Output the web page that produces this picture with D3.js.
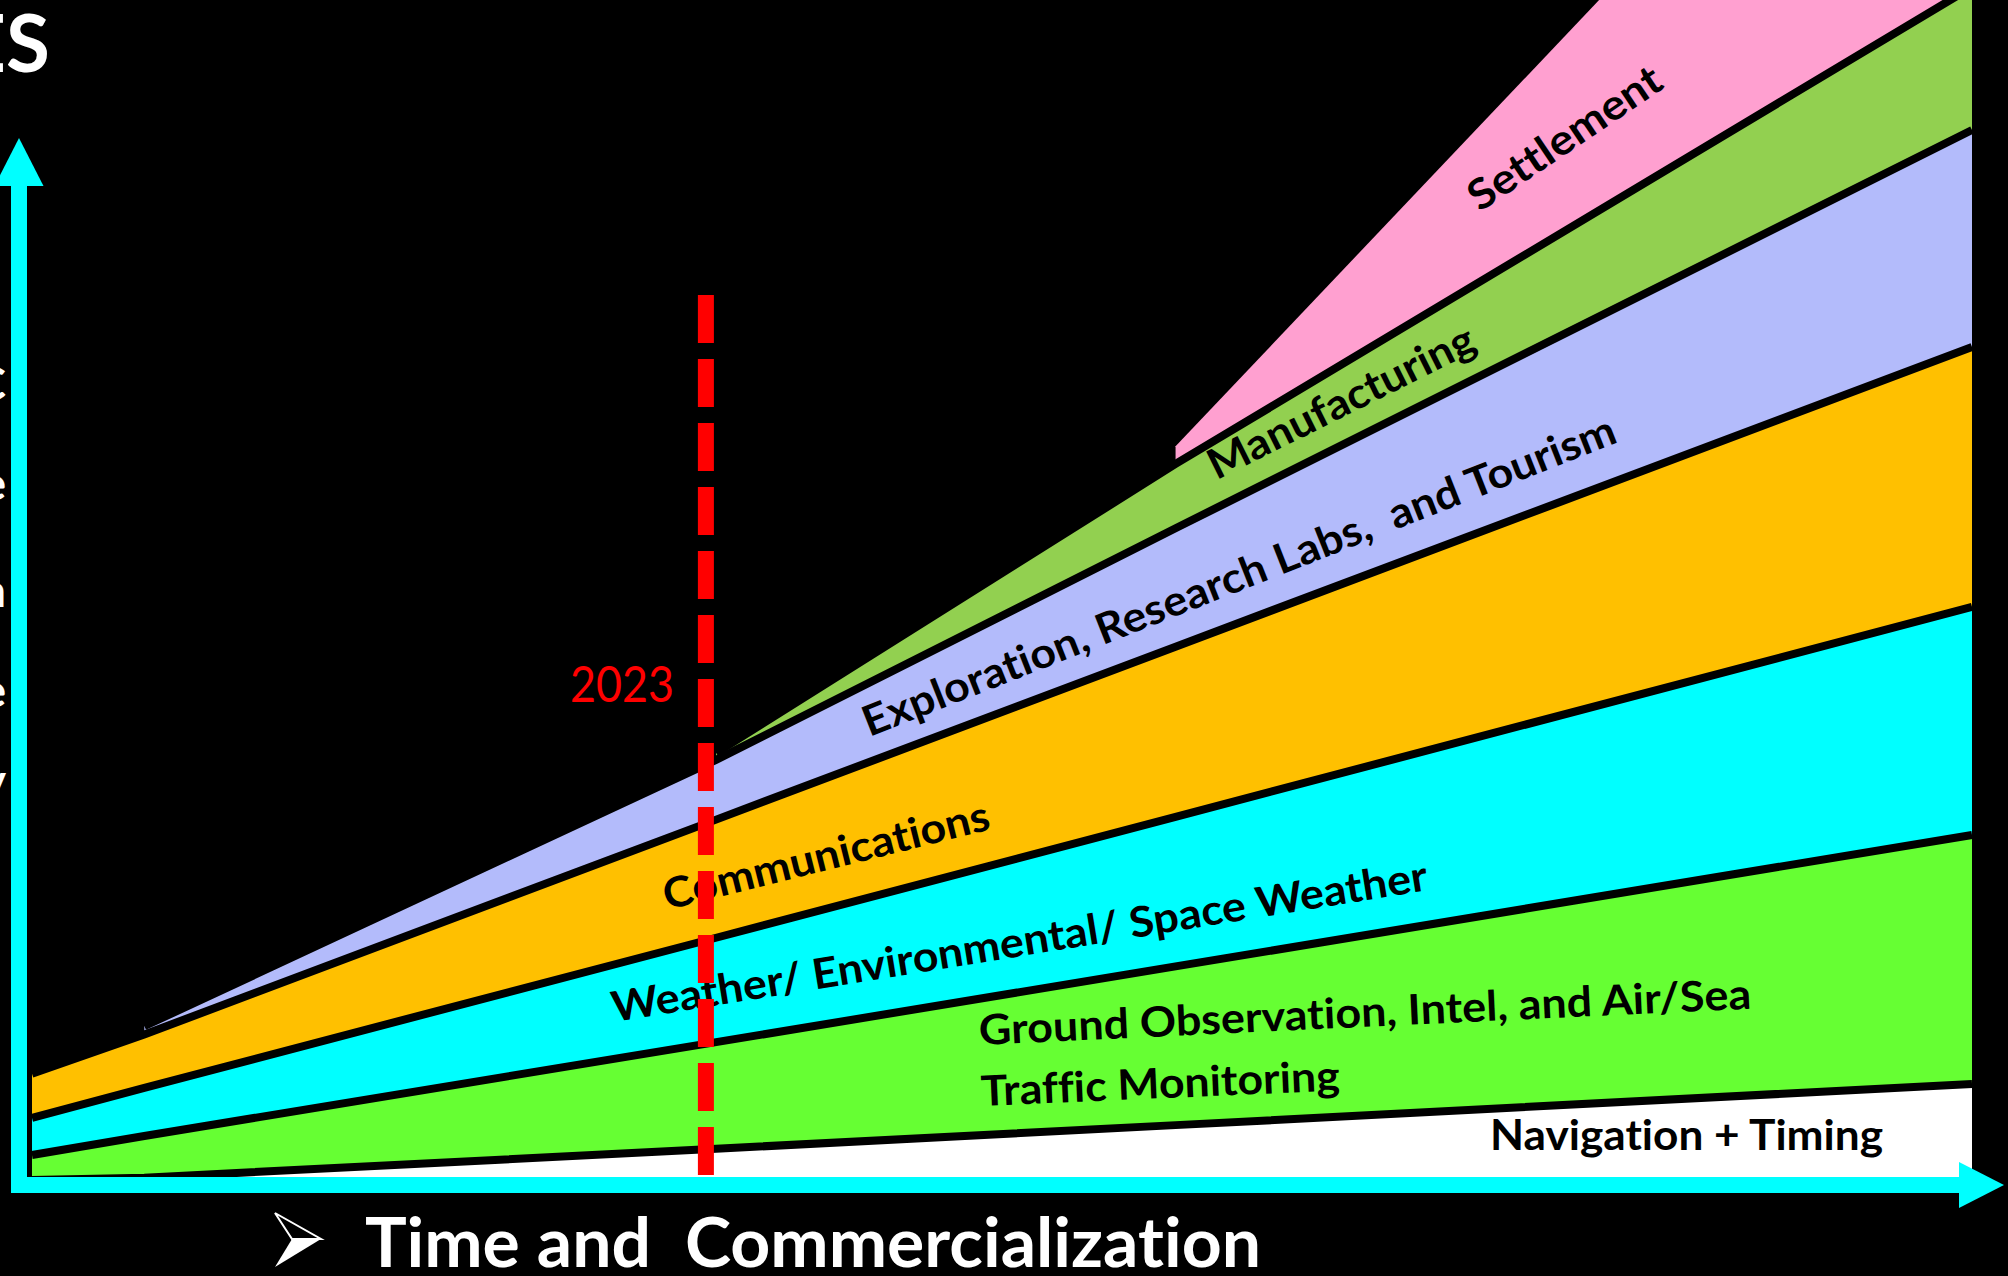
<!DOCTYPE html>
<html>
<head>
<meta charset="utf-8">
<script src="https://cdn.jsdelivr.net/npm/d3@7/dist/d3.min.js"></script>
<style>
  body { margin: 0; background: #000; }
  svg { display: block; }
  text { font-family: Lato, "Open Sans", sans-serif; font-variant-ligatures: none; font-feature-settings: "liga" 0, "clig" 0; }
</style>
</head>
<body>
<div id="chart"></div>
<script>
// stacked sector thickness per year (bottom to top), null = sector not started yet
const years = [1990, 1995.5, 2023.5, 2046, 2085];
const sectorKeys = ["navigation", "ground", "weather", "communications", "exploration", "manufacturing", "settlement"];
const navigation = [0, 0.2, 2.65, 4.65, 8.14];
const ground = [2.12, 3.53, 9.03, 13.45, 21.1];
const weather = [3.14, 4.08, 8.85, 12.68, 19.32];
const communications = [3.75, 4.52, 10.01, 14.42, 22.03];
const exploration = [null, 0.7, 5.06, 10.03, 18.39];
const manufacturing = [null, null, 0.6, 5.45, 12.12];
const settlement = [null, null, null, 1.5, 32.2];
const markerYear = 2023;

const colors = {
  navigation: "#ffffff",
  ground: "#66ff33",
  weather: "#00ffff",
  communications: "#ffc000",
  exploration: "#b3bbfb",
  manufacturing: "#92d050",
  settlement: "#ffa0d0"
};

// label anchors in data space (baseline start), angle in degrees
const labels = [
  { text: "Navigation + Timing", year: 2061.4, value: 2.54, angle: 0, length: 393 },
  { text: "Ground Observation, Intel, and Air/Sea", year: 2036.4, value: 11.44, angle: -2.7, length: 773 },
  { text: "Traffic Monitoring", year: 2036.5, value: 6.27, angle: -2.5, length: 359 },
  { text: "Weather/ Environmental/ Space Weather", year: 2018.5, value: 13.39, angle: -9.2, length: 826 },
  { text: "Communications", year: 2021.1, value: 22.88, angle: -14, length: 335 },
  { text: "Exploration, Research Labs,  and Tourism", year: 2031.0, value: 37.54, angle: -21.5, length: 806 },
  { text: "Manufacturing", year: 2048.0, value: 59.3, angle: -26.5, length: 293 },
  { text: "Settlement", year: 2060.9, value: 82.0, angle: -34, length: 224 }
];

const W = 2008, H = 1276;
const svg = d3.select("#chart").append("svg")
  .attr("width", W)
  .attr("height", H)
  .style("background", "#000");

const x = d3.scaleLinear().domain([1990, 2085]).range([32, 1972]);
const y = d3.scaleLinear().domain([0, 100]).range([1180, 0]);

const source = { navigation, ground, weather, communications, exploration, manufacturing, settlement };
const table = years.map((year, i) => {
  const row = { year };
  sectorKeys.forEach(k => row[k] = source[k][i]);
  return row;
});

const series = d3.stack()
  .keys(sectorKeys)
  .value((d, k) => d[k] ?? 0)(table);

const g = svg.append("g");

series.forEach(s => {
  const area = d3.area()
    .defined(d => d.data[s.key] != null)
    .x(d => x(d.data.year))
    .y0(d => y(d[0]))
    .y1(d => y(d[1]));
  g.append("path")
    .attr("d", area(s))
    .attr("fill", colors[s.key]);
});

// black separators on every band top except the highest
series.slice(0, -1).forEach(s => {
  const line = d3.line()
    .defined(d => d.data[s.key] != null)
    .x(d => x(d.data.year))
    .y(d => y(d[1]));
  g.append("path")
    .attr("d", line(s))
    .attr("fill", "none")
    .attr("stroke", "#000")
    .attr("stroke-width", 8);
});

labels.forEach(l => {
  svg.append("text")
    .attr("transform", `translate(${x(l.year)},${y(l.value)}) rotate(${l.angle})`)
    .attr("font-size", 42)
    .attr("font-weight", 700)
    .attr("fill", "#000")
    .attr("textLength", l.length)
    .attr("lengthAdjust", "spacingAndGlyphs")
    .style("white-space", "pre")
    .text(l.text);
});

// 2023 marker
svg.append("line")
  .attr("x1", x(markerYear)).attr("x2", x(markerYear))
  .attr("y1", y(75)).attr("y2", y(0))
  .attr("stroke", "#ff0000")
  .attr("stroke-width", 16)
  .attr("stroke-dasharray", "48 16");

svg.append("text")
  .attr("x", x(markerYear) - 32)
  .attr("y", y(40.5))
  .attr("text-anchor", "end")
  .attr("font-size", 50)
  .attr("fill", "#ff0000")
  .attr("textLength", 104)
  .attr("lengthAdjust", "spacingAndGlyphs")
  .text(markerYear);

// cyan axis arrows
const ax = x.range()[0] - 13, ay = y(0) + 5;
svg.append("line")
  .attr("x1", ax).attr("x2", ax)
  .attr("y1", 180).attr("y2", ay + 8)
  .attr("stroke", "#00ffff").attr("stroke-width", 16);
svg.append("path")
  .attr("d", `M${ax},138L${ax - 24.5},186L${ax + 24.5},186Z`)
  .attr("fill", "#00ffff");
svg.append("line")
  .attr("x1", ax - 8).attr("x2", 1962)
  .attr("y1", ay).attr("y2", ay)
  .attr("stroke", "#00ffff").attr("stroke-width", 16);
svg.append("path")
  .attr("d", `M1959,${ay - 23}L2004,${ay}L1959,${ay + 23}Z`)
  .attr("fill", "#00ffff");

// axis titles
svg.append("path")
  .attr("d", "M275,1213L321,1239L292,1239Z")
  .attr("fill", "#000").attr("stroke", "#fff").attr("stroke-width", 2);
svg.append("path")
  .attr("d", "M292,1239L321,1239L275,1267Z")
  .attr("fill", "#fff");

svg.append("text")
  .attr("x", 365)
  .attr("y", 1267)
  .attr("font-size", 68)
  .attr("font-weight", 700)
  .attr("fill", "#fff")
  .attr("textLength", 896)
  .attr("lengthAdjust", "spacingAndGlyphs")
  .style("white-space", "pre")
  .text("Time and  Commercialization");

svg.append("text")
  .attr("x", 50)
  .attr("y", 72)
  .attr("text-anchor", "end")
  .attr("font-size", 80)
  .attr("font-weight", 700)
  .attr("fill", "#fff")
  .text("ES");

// vertical y title, mostly cut off by the left edge
const yTitle = [["C", 400], ["e", 500], ["n", 607], ["e", 707], ["y", 797]];
svg.selectAll(".ytitle")
  .data(yTitle)
  .enter().append("text")
  .attr("class", "ytitle")
  .attr("x", 6)
  .attr("y", d => d[1])
  .attr("text-anchor", "end")
  .attr("font-size", 46)
  .attr("font-weight", 700)
  .attr("fill", "#fff")
  .text(d => d[0]);
</script>
</body>
</html>
